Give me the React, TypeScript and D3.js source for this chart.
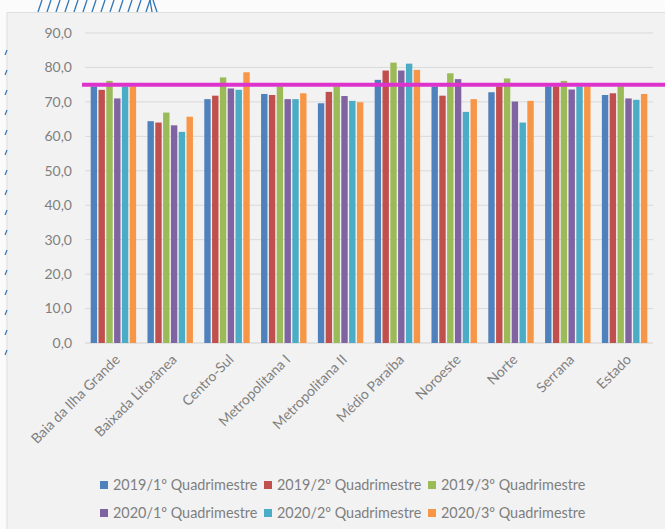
import React from "react";
import * as d3 from "d3";

const categories = [
  "Baia da Ilha Grande",
  "Baixada Litorânea",
  "Centro-Sul",
  "Metropolitana I",
  "Metropolitana II",
  "Médio Paraíba",
  "Noroeste",
  "Norte",
  "Serrana",
  "Estado",
];

const seriesNames = [
  "2019/1º Quadrimestre",
  "2019/2º Quadrimestre",
  "2019/3º Quadrimestre",
  "2020/1º Quadrimestre",
  "2020/2º Quadrimestre",
  "2020/3º Quadrimestre",
];

const s2019q1 = [74.5, 64.4, 70.8, 72.3, 69.6, 76.4, 74.5, 72.8, 74.5, 72.0];
const s2019q2 = [73.5, 64.0, 71.8, 72.0, 72.9, 79.1, 71.8, 74.5, 74.5, 72.5];
const s2019q3 = [76.1, 66.9, 77.1, 74.5, 74.5, 81.4, 78.3, 76.8, 76.1, 74.5];
const s2020q1 = [71.0, 63.2, 73.9, 70.8, 71.7, 79.1, 76.6, 70.1, 73.6, 71.0];
const s2020q2 = [74.5, 61.3, 73.5, 70.8, 70.3, 81.1, 67.1, 64.0, 74.5, 70.6];
const s2020q3 = [74.5, 65.7, 78.6, 72.5, 69.9, 79.3, 70.8, 70.3, 74.5, 72.3];

const seriesValues = [s2019q1, s2019q2, s2019q3, s2020q1, s2020q2, s2020q3];
const colors = ["#4f81bd", "#c0504d", "#9bbb59", "#8064a2", "#4bacc6", "#f79646"];
const yTicks = [0, 10, 20, 30, 40, 50, 60, 70, 80, 90];
const targetValue = 75;

const W = 665;
const H = 529;
const FONT = "Lato, 'Liberation Sans', sans-serif";

export default function App() {
  const x = d3.scaleBand<string>().domain(categories).range([85, 653]).paddingInner(0.2).paddingOuter(0.1);
  const y = d3.scaleLinear().domain([0, 90]).range([343, 33]);
  const inner = d3
    .scaleBand<number>()
    .domain(d3.range(seriesNames.length))
    .range([0, x.bandwidth()])
    .paddingInner(0.18);
  const fmt = (v: number) => d3.format(".1f")(v).replace(".", ",");

  const hatches = d3.range(13).map((i) => 38 + i * 9);
  const leftMarks = d3.range(0, 16).map((i) => 52 + i * 20);

  return (
    <svg
      width={W}
      height={H}
      style={{ position: "absolute", left: 0, top: 0, display: "block" }}
      fontFamily={FONT}
    >
      <rect x={0} y={0} width={W} height={H} fill="#fbfbfb" />
      {/* decorative top hatches */}
      {hatches.map((hx, i) => (
        <line key={"h" + i} x1={hx} y1={12} x2={hx + 4} y2={0} stroke="#2e75b6" strokeWidth={1.3} />
      ))}
      <path d="M150,0 L152,12 M153,0 L157,12" stroke="#2e75b6" strokeWidth={1.3} fill="none" />
      {/* chart area */}
      <rect x={7} y={12.5} width={W} height={H} fill="#f2f2f2" stroke="#dedede" strokeWidth={1} />
      {leftMarks.map((my, i) => (
        <line key={"m" + i} x1={5} y1={my + 3} x2={7} y2={my - 2} stroke="#2e75b6" strokeWidth={1.2} />
      ))}
      {/* gridlines */}
      {yTicks.map((t) => (
        <g key={"g" + t}>
          <line x1={85} x2={653} y1={y(t)} y2={y(t)} stroke={t === 0 ? "#d0d0d0" : "#d9d9d9"} strokeWidth={1} />
          <text x={72} y={y(t)} dy="0.35em" textAnchor="end" fontSize={14} fill="#7f7f7f">
            {fmt(t)}
          </text>
        </g>
      ))}
      {/* bars */}
      {categories.map((c, ci) => (
        <g key={c} transform={`translate(${x(c)},0)`}>
          {seriesValues.map((vals, si) => (
            <rect
              key={si}
              x={inner(si)}
              y={y(vals[ci])}
              width={inner.bandwidth()}
              height={y(0) - y(vals[ci])}
              fill={colors[si]}
            />
          ))}
        </g>
      ))}
      {/* target line */}
      <line x1={82} x2={W} y1={y(targetValue)} y2={y(targetValue)} stroke="#dd33cc" strokeWidth={4} />
      {/* x labels */}
      {categories.map((c) => {
        const cx = (x(c) as number) + x.bandwidth() / 2 + 4;
        return (
          <text
            key={"l" + c}
            transform={`translate(${cx},357) rotate(-45)`}
            textAnchor="end"
            dy="0.35em"
            fontSize={14}
            fill="#7f7f7f"
          >
            {c}
          </text>
        );
      })}
      {/* legend */}
      {seriesNames.map((n, i) => {
        const col = i % 3;
        const row = Math.floor(i / 3);
        const lx = 100 + col * 164;
        const ly = 485 + row * 28;
        return (
          <g key={"lg" + i}>
            <rect x={lx} y={ly - 4} width={8} height={8} fill={colors[i]} />
            <text x={lx + 13} y={ly} dy="0.35em" fontSize={14.4} fill="#7f7f7f">
              {n}
            </text>
          </g>
        );
      })}
    </svg>
  );
}
